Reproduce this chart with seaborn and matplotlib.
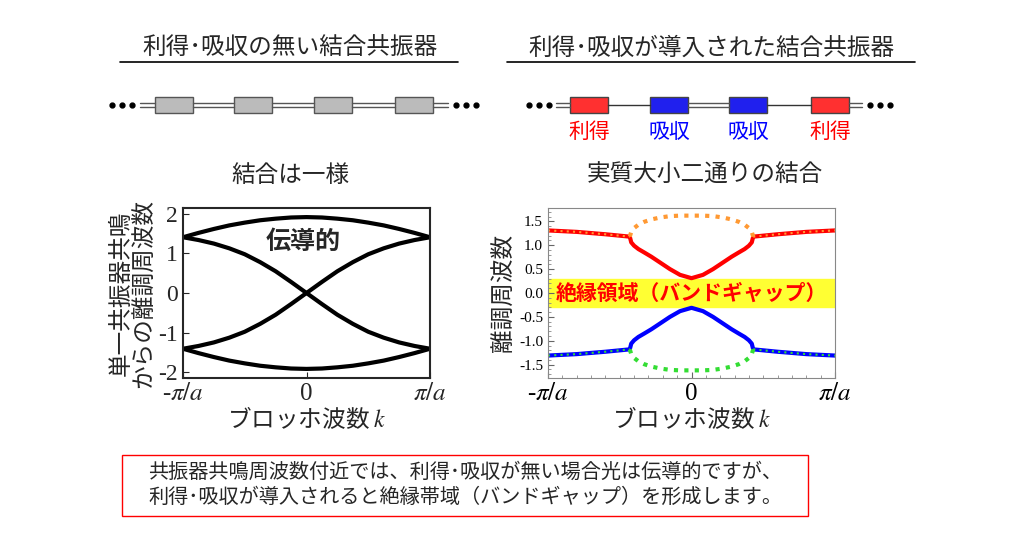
import numpy as np
import matplotlib.pyplot as plt
import seaborn as sns
from matplotlib.patches import Rectangle

sns.set_style("ticks")
plt.rcParams['font.family'] = 'Noto Sans CJK JP'
plt.rcParams['mathtext.fontset'] = 'stix'

# Left panel: uniform coupling (k in units of pi/a)
k_left = [-1, -0.875, -0.75, -0.625, -0.5, -0.375, -0.25, -0.125, 0,
          0.125, 0.25, 0.375, 0.5, 0.625, 0.75, 0.875, 1]
arc_top = [1.41, 1.52, 1.62, 1.71, 1.78, 1.84, 1.88, 1.91, 1.92,
           1.91, 1.88, 1.84, 1.78, 1.71, 1.62, 1.52, 1.41]
cross_down = [1.41, 1.34, 1.25, 1.13, 0.98, 0.78, 0.55, 0.28, 0.0,
              -0.28, -0.55, -0.78, -0.98, -1.13, -1.25, -1.34, -1.41]

# Right panel: gain/loss, exceptional points at +-0.43
k_out_l = [-1, -0.8, -0.6, -0.43]
band_out_l = [1.31, 1.28, 1.23, 1.18]
k_in = [-0.43, -0.42, -0.40, -0.37, -0.33, -0.28, -0.22, -0.15, -0.08, 0,
        0.08, 0.15, 0.22, 0.28, 0.33, 0.37, 0.40, 0.42, 0.43]
band_red = [1.18, 1.06, 0.99, 0.92, 0.85, 0.76, 0.64, 0.50, 0.38, 0.31,
            0.38, 0.50, 0.64, 0.76, 0.85, 0.92, 0.99, 1.06, 1.18]
band_orange = [1.18, 1.28, 1.36, 1.43, 1.49, 1.54, 1.58, 1.61, 1.62, 1.62,
               1.62, 1.61, 1.58, 1.54, 1.49, 1.43, 1.36, 1.28, 1.18]
k_out_r = [0.43, 0.6, 0.8, 1]
band_out_r = [1.18, 1.23, 1.28, 1.31]

W, H = 1024, 552
fig = plt.figure(figsize=(W / 100, H / 100), dpi=100)
bg = fig.add_axes([0, 0, 1, 1])
bg.set_xlim(0, W)
bg.set_ylim(H, 0)
bg.axis('off')

def ax_at(x0, y0, x1, y1):
    return fig.add_axes([x0 / W, 1 - y1 / H, (x1 - x0) / W, (y1 - y0) / H])

# Titles
bg.text(290, 48, '利得･吸収の無い結合共振器', ha='center', va='center', fontsize=17)
bg.plot([120, 458], [62, 62], color='black', lw=1.2)
bg.text(711, 48, '利得･吸収が導入された結合共振器', ha='center', va='center', fontsize=17)
bg.plot([507, 915], [62, 62], color='black', lw=1.2)
bg.text(290, 175, '結合は一様', ha='center', va='center', fontsize=17)
bg.text(705, 175, '実質大小二通りの結合', ha='center', va='center', fontsize=17)

# Chains
def dline(x0, x1, y=105):
    bg.plot([x0, x1], [y - 2, y - 2], color='#555555', lw=1)
    bg.plot([x0, x1], [y + 2, y + 2], color='#555555', lw=1)

def sline(x0, x1, y=105):
    bg.plot([x0, x1], [y, y], color='#333333', lw=1)

for x in [112, 122, 132]:
    bg.plot(x, 105, 'o', color='black', ms=3.5)
left_boxes = [155, 234, 314, 395]
dline(140, 155)
for i, x in enumerate(left_boxes):
    bg.add_patch(Rectangle((x, 97), 38, 16, facecolor='#bbbbbb', edgecolor='#555555', lw=1))
    end = left_boxes[i + 1] if i < 3 else 448
    dline(x + 38, end)
for x in [456, 466, 476]:
    bg.plot(x, 105, 'o', color='black', ms=3.5)

for x in [529, 539, 549]:
    bg.plot(x, 105, 'o', color='black', ms=3.5)
right_boxes = [570, 650, 729, 811]
right_cols = ['#ff3030', '#2020ee', '#2020ee', '#ff3030']
right_labs = ['利得', '吸収', '吸収', '利得']
dline(556, 570)
sline(608, 650)
dline(688, 729)
sline(767, 811)
dline(849, 862)
for x, c, lab in zip(right_boxes, right_cols, right_labs):
    bg.add_patch(Rectangle((x, 97), 38, 16, facecolor=c, edgecolor='#444444', lw=1))
    bg.text(x + 19, 132, lab, ha='center', va='center', fontsize=15,
            color='red' if c == '#ff3030' else 'blue')
for x in [870, 880, 890]:
    bg.plot(x, 105, 'o', color='black', ms=3.5)

tick_pos = [-1, 0, 1]
tick_lab = [r'-$\pi/a$', '0', r'$\pi/a$']

# Left plot
ax1 = ax_at(183, 208, 430, 378)
for sgn in [1, -1]:
    sns.lineplot(x=k_left, y=[sgn * v for v in arc_top], ax=ax1, color='black', lw=3)
    sns.lineplot(x=k_left, y=[sgn * v for v in cross_down], ax=ax1, color='black', lw=3)
ax1.set_xlim(-1, 1)
ax1.set_ylim(-2.15, 2.15)
ax1.set_xticks(tick_pos)
ax1.set_xticklabels(tick_lab, fontsize=18, fontfamily='Liberation Serif')
ax1.set_yticks([-2, -1, 0, 1, 2])
ax1.set_yticklabels(['-2', '-1', '0', '1', '2'], fontsize=17, fontfamily='Liberation Serif')
ax1.tick_params(direction='in', length=4)
ax1.text(-0.03, 1.3, '伝導的', fontsize=18, fontweight='bold', ha='center', va='center')
ax1.set_ylabel('単一共振器共鳴\nからの離調周波数', fontsize=17, labelpad=2, linespacing=1.0)
ax1.set_xlabel('ブロッホ波数 $k$', fontsize=17, labelpad=0)
for s in ax1.spines.values():
    s.set_linewidth(1.5)

# Right plot
ax2 = ax_at(548, 208, 835, 378)
ax2.axhspan(-0.3, 0.3, color='#ffff33', zorder=0)
sns.lineplot(x=k_out_l, y=band_out_l, ax=ax2, color='red', lw=3)
sns.lineplot(x=k_out_r, y=band_out_r, ax=ax2, color='red', lw=3)
sns.lineplot(x=k_in, y=band_red, ax=ax2, color='red', lw=3)
sns.lineplot(x=k_in, y=band_orange, ax=ax2, color='#ff9933', lw=3, linestyle=(0, (1, 1.5)))
sns.lineplot(x=k_out_l, y=band_out_l, ax=ax2, color='#ff9933', lw=1.5, linestyle=(0, (1, 2)))
sns.lineplot(x=k_out_r, y=band_out_r, ax=ax2, color='#ff9933', lw=1.5, linestyle=(0, (1, 2)))
sns.lineplot(x=k_out_l, y=[-v for v in band_out_l], ax=ax2, color='blue', lw=3)
sns.lineplot(x=k_out_r, y=[-v for v in band_out_r], ax=ax2, color='blue', lw=3)
sns.lineplot(x=k_in, y=[-v for v in band_red], ax=ax2, color='blue', lw=3)
sns.lineplot(x=k_in, y=[-v for v in band_orange], ax=ax2, color='#33dd33', lw=3, linestyle=(0, (1, 1.5)))
sns.lineplot(x=k_out_l, y=[-v for v in band_out_l], ax=ax2, color='#33dd33', lw=1.5, linestyle=(0, (1, 2)))
sns.lineplot(x=k_out_r, y=[-v for v in band_out_r], ax=ax2, color='#33dd33', lw=1.5, linestyle=(0, (1, 2)))
ax2.text(0, 0, '絶縁領域（バンドギャップ）', color='red', fontsize=15, fontweight='bold',
         ha='center', va='center')
ax2.set_xlim(-1, 1)
ax2.set_ylim(-1.78, 1.78)
ax2.set_xticks(tick_pos)
ax2.set_xticklabels(tick_lab, fontsize=18, fontfamily='Liberation Serif')
yt = [-1.5, -1.0, -0.5, 0.0, 0.5, 1.0, 1.5]
ax2.set_yticks(yt)
ax2.set_yticklabels([f'{v:.1f}' for v in yt], fontsize=11, fontfamily='Liberation Serif')
ax2.set_xticks(np.linspace(-1, 1, 21), minor=True)
ax2.set_yticks(np.linspace(-1.7, 1.7, 35), minor=True)
ax2.tick_params(direction='in', length=4, colors='#666666', labelcolor='black')
ax2.tick_params(which='minor', direction='in', length=2, colors='#888888')
ax2.set_ylabel('離調周波数', fontsize=17, labelpad=2)
ax2.set_xlabel('ブロッホ波数 $k$', fontsize=17, labelpad=0)
for s in ax2.spines.values():
    s.set_color('#888888')

# Bottom note
bg.add_patch(Rectangle((122, 455), 686, 61, facecolor='white', edgecolor='red', lw=1))
bg.text(465, 485, '共振器共鳴周波数付近では、利得･吸収が無い場合光は伝導的ですが、\n'
        '利得･吸収が導入されると絶縁帯域（バンドギャップ）を形成します。',
        ha='center', va='center', fontsize=14.5, linespacing=1.25)

fig.savefig('out.png', dpi=100)
